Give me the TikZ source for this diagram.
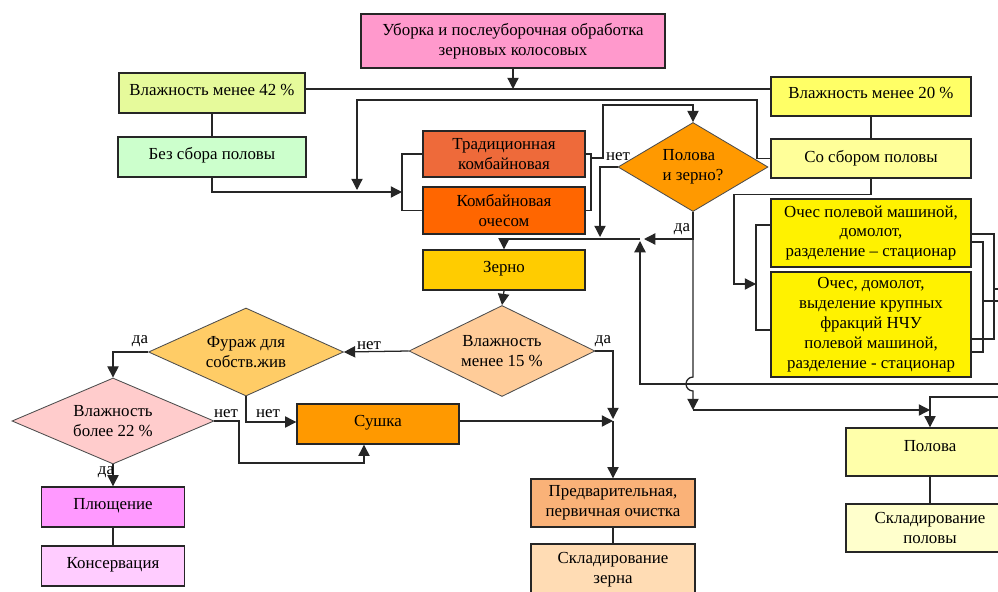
\documentclass[tikz,border=0pt]{standalone}
\usepackage{fontspec}
\setmainfont{Liberation Serif}
\usetikzlibrary{shapes.geometric,arrows.meta}

\definecolor{cPink}{RGB}{255,153,204}
\definecolor{cLime}{RGB}{230,250,155}
\definecolor{cMint}{RGB}{204,255,204}
\definecolor{cBrick}{RGB}{238,106,58}
\definecolor{cOrange}{RGB}{255,102,0}
\definecolor{cGold}{RGB}{255,204,0}
\definecolor{cAmber}{RGB}{255,153,0}
\definecolor{cLemon}{RGB}{255,255,102}
\definecolor{cCream}{RGB}{255,255,153}
\definecolor{cPeach}{RGB}{255,204,153}
\definecolor{cSand}{RGB}{255,204,102}
\definecolor{cRose}{RGB}{255,204,204}
\definecolor{cViolet}{RGB}{255,153,255}
\definecolor{cLilac}{RGB}{255,204,255}
\definecolor{cApricot}{RGB}{250,178,120}
\definecolor{cBisque}{RGB}{255,220,180}
\definecolor{cChaff}{RGB}{255,255,170}
\definecolor{cPale}{RGB}{255,255,204}

\newcommand{\pxl}{0.025cm}
\tikzset{
        sz/.style 2 args={minimum width=#1*\pxl, minimum height=#2*\pxl},
        box/.style={draw=black!85, line width=1pt, align=center, inner sep=1pt},
        lift/.style={text depth=5pt},
        dia/.style={diamond, draw=black!70, line width=0.6pt, align=center, inner sep=0pt, aspect=2},
        con/.style={draw=black!85, line width=0.9pt},
        arr/.style={con, -{Triangle[length=8pt,width=8pt]}},
        lbl/.style={inner sep=0pt}
}

\begin{document}
\begin{tikzpicture}[x=\pxl, y=-\pxl, font=\fontsize{12}{14.2}\selectfont]
        \useasboundingbox (0,0) rectangle (998,591);
        \clip (0,0) rectangle (998,591);

        \node [box, sz={304}{54}, fill=cPink] (harvest) at (513,41) {Уборка и послеуборочная обработка\\зерновых колосовых};
        \node [box, lift, sz={186}{40}, fill=cLime] (hum42) at (212,93) {Влажность менее 42 \%};
        \node [box, lift, sz={188}{40}, fill=cMint] (nochaff) at (212,157) {Без сбора половы};
        \node [box, sz={162}{46}, fill=cBrick] (trad) at (504,154) {Традиционная\\комбайновая};
        \node [box, sz={162}{47}, fill=cOrange] (strip) at (504,210.5) {Комбайновая\\очесом};
        \node [box, lift, sz={162}{40}, fill=cGold] (grain) at (504,270) {Зерно};
        \node [dia, sz={150}{89}, fill=cAmber, align=left] (qmix) at (693,167) {Полова\\и зерно?};
        \node [box, lift, sz={200}{39}, fill=cLemon] (hum20) at (871,96.5) {Влажность менее 20 \%};
        \node [box, sz={200}{39}, fill=cCream] (chaff) at (871,158.5) {Со сбором половы};
        \node [box, sz={200}{68}, fill=yellow] (field1) at (871,233) {Очес полевой машиной,\\домолот,\\разделение – стационар};
        \node [box, sz={200}{105}, fill=yellow] (field2) at (871,324.5) {Очес, домолот,\\выделение крупных\\фракций НЧУ\\полевой машиной,\\разделение - стационар};

        \node [dia, sz={186}{91}, fill=cPeach] (hum15) at (502,351) {Влажность\\менее 15 \%};
        \node [dia, sz={195}{88}, fill=cSand] (feed) at (246,352) {Фураж для\\собств.жив};
        \node [dia, sz={202}{86}, fill=cRose] (hum22) at (113,421) {Влажность\\более 22 \%};
        \node [box, lift, sz={162}{40}, fill=cAmber] (dry) at (378,424) {Сушка};
        \node [box, lift, sz={143}{40}, fill=cViolet] (flat) at (113,507) {Плющение};
        \node [box, lift, sz={143}{40}, fill=cLilac] (preserve) at (113,566) {Консервация};
        \node [box, sz={164}{48}, fill=cApricot] (clean) at (613,503) {Предварительная,\\первичная очистка};
        \node [box, sz={164}{52}, fill=cBisque] (store) at (613,570) {Складирование\\зерна};
        \node [box, sz={168}{48}, fill=cChaff, text depth=8pt] (husk) at (930,452) {Полова};
        \node [box, sz={168}{48}, fill=cPale] (huskstore) at (930,528) {Складирование\\половы};

        % upper part
        \coordinate (top) at (513,89);
        \draw [con] (hum42.east |- top) -- (hum20.west |- top);
        \draw [arr] (harvest.south) -- (top);
        \draw [con] (hum42.south) -- (nochaff.north);
        \draw [con] (hum20.south) -- (chaff.north);

        \coordinate (inL) at (402,192);
        \draw [arr] (nochaff.south) |- (inL);
        \draw [con] (trad.west) -| (inL) |- (strip.west);
        \draw [arr] (chaff.west) -| (757,100) -| (357,190);

        \coordinate (inR) at (591,158);
        \draw [con] (trad.east) -| (inR) |- (strip.east);
        \draw [arr] (inR) -| (603,105) -| (qmix.north);

        \coordinate (hub) at (640,239);
        \coordinate (cc) at (693,410);
        \draw [arr] (qmix.west) -| (600,237);
        \draw [arr] (qmix.south) |- (644,239);
        \draw [arr] (hub) -| (grain.north);
        \draw [arr] (qmix.south) -- (693,377) arc [start angle=270, end angle=90, radius=7] -- (cc);
        \draw [arr] (cc) -- (husk.north |- cc);

        % field machines
        \coordinate (inF) at (756,284);
        \coordinate (eA) at (998,384);
        \coordinate (eB) at (998,397);
        \draw [arr] (chaff.south) -- ++(0,16) -| (734,250) |- (inF);
        \draw [con] (field1.west |- 0,225) -| (inF) |- (field2.west |- 0,330);
        \draw [con] (field1.east |- 0,234) -| (994,289) |- (field2.east |- 0,339);
        \draw [con] (994,289) -- (998,289);
        \draw [con] (field1.east |- 0,242) -| (983,301) |- (field2.east |- 0,352);
        \draw [con] (983,301) -- (998,301);
        \draw [arr] (eA) -| (640,241);
        \draw [arr] (eB) -| (husk.north);
        \draw [con] (husk.south) -- (huskstore.north);

        % grain branch
        \coordinate (join) at (613,421);
        \draw [arr] (grain.south) -- (hum15.north);
        \draw [arr] (hum15.west) -- (feed.east);
        \draw [arr] (feed.west) -| (hum22.north);
        \draw [arr] (feed.south) |- (dry.west |- 0,422);
        \draw [arr] (hum22.east) -| (239,440) |- (364,463) -- (dry.south -| 364,0);
        \draw [arr] (hum22.south) -- (flat.north);
        \draw [con] (flat.south) -- (preserve.north);
        \draw [arr] (dry.east |- join) -- (join);
        \draw [arr] (hum15.east) -| (613,419);
        \draw [arr] (join) -- (clean.north);
        \draw [con] (clean.south) -- (store.north);

        \node [lbl] (l1) at (618,157) {нет};
        \node [lbl] (l2) at (682,229) {да};
        \node [lbl] (l3) at (369,346) {нет};
        \node [lbl] (l4) at (603,341) {да};
        \node [lbl] (l5) at (140,341) {да};
        \node [lbl] (l6) at (268,414) {нет};
        \node [lbl] (l7) at (226,414) {нет};
        \node [lbl] (l8) at (106,472) {да};
\end{tikzpicture}
\end{document}
